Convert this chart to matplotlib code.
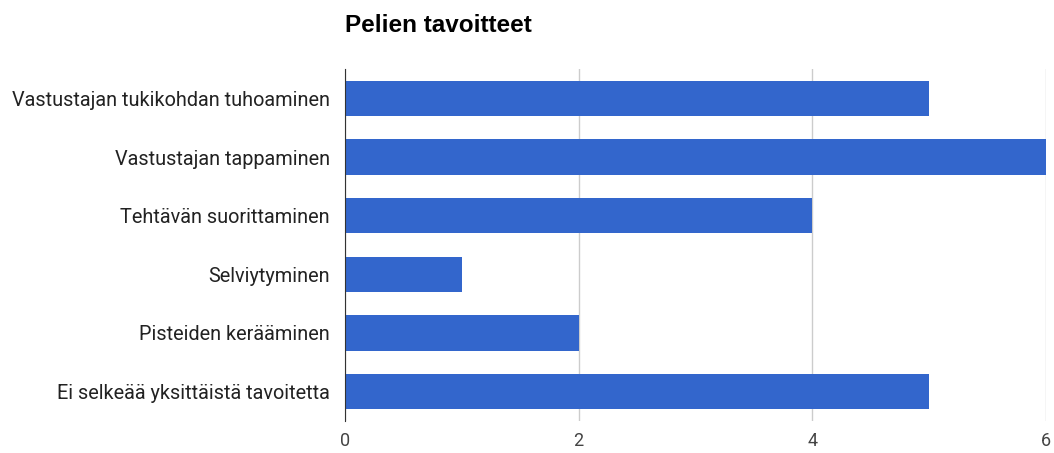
import matplotlib.pyplot as plt

# Survey results: game objectives
categories = [
    "Vastustajan tukikohdan tuhoaminen",
    "Vastustajan tappaminen",
    "Tehtävän suorittaminen",
    "Selviytyminen",
    "Pisteiden kerääminen",
    "Ei selkeää yksittäistä tavoitetta",
]
counts = [5, 6, 4, 1, 2, 5]
x_ticks = [0, 2, 4, 6]

plt.rcParams["font.family"] = ["Roboto", "DejaVu Sans"]

fig = plt.figure(figsize=(10.54, 4.53), dpi=100)
ax = fig.add_axes([345 / 1054, 32 / 453, 701 / 1054, 352 / 453])

pos = list(range(len(categories)))
ax.barh(pos, counts, height=0.6, color="#3366cc", zorder=3)
ax.set_ylim(len(categories) - 0.5, -0.5)
ax.set_xlim(0, 6)

ax.set_yticks(pos)
ax.set_yticklabels(categories, fontsize=14.3, color="#222222")
ax.set_xticks(x_ticks)
ax.set_xticklabels([str(t) for t in x_ticks], fontsize=13, color="#444444")
ax.tick_params(axis="y", length=0, pad=11)
ax.tick_params(axis="x", length=0, pad=8)

ax.grid(axis="x", color="#cccccc", linewidth=1, zorder=0)
for side in ["top", "right", "bottom"]:
    ax.spines[side].set_visible(False)
ax.spines["left"].set_color("#333333")
ax.spines["left"].set_zorder(4)

fig.text(345 / 1054, 1 - 25 / 453, "Pelien tavoitteet", fontsize=17.5,
         fontweight="bold", family=["Liberation Sans", "DejaVu Sans"],
         color="#000000", va="center", ha="left")

fig.savefig("out.png", dpi=100)
